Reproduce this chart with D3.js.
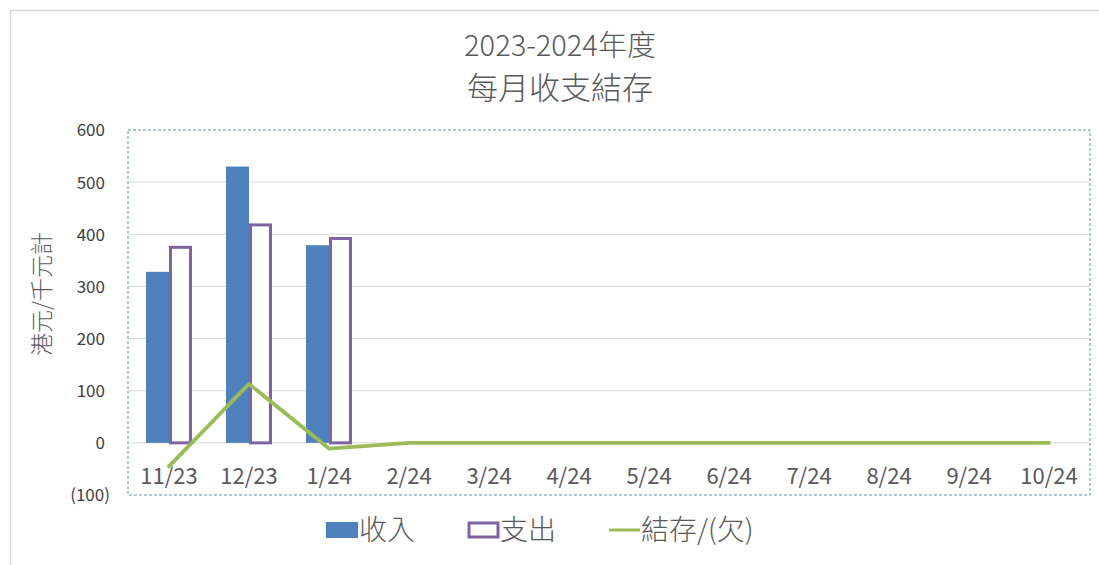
<!DOCTYPE html>
<html><head><meta charset="utf-8">
<script src="https://cdn.jsdelivr.net/npm/d3@7"></script>
<style>body{margin:0;background:#fff}svg{display:block}</style>
</head><body>
<svg id="c" width="1099" height="565"></svg>
<script>
const categories = ["11/23","12/23","1/24","2/24","3/24","4/24","5/24","6/24","7/24","8/24","9/24","10/24"];
const income  = [328, 530, 379, null, null, null, null, null, null, null, null, null];
const expense = [375, 418, 392, null, null, null, null, null, null, null, null, null];
const balance = [-45, 113, -11, 0, 0, 0, 0, 0, 0, 0, 0, 0];
const yTicks = [-100, 0, 100, 200, 300, 400, 500, 600];
const titleLines = ["2023-2024年度", "每月收支結存"];
const yTitle = "港元/千元計";
const legendLabels = ["收入", "支出", "結存/(欠)"];

const font = "'Noto Sans CJK TC','Noto Sans',sans-serif";
const svg = d3.select("#c");
const L = 129, R = 1089, T = 130, B = 495;

// outer chart border
svg.append("rect").attr("x",10.5).attr("y",10.5).attr("width",1100).attr("height",560)
  .attr("fill","none").attr("stroke","#d9d9d9").attr("stroke-width",1.5);

const x = d3.scaleBand().domain(categories).range([L, R]).paddingInner(0).paddingOuter(0);
const y = d3.scaleLinear().domain([-100, 600]).range([B, T]);

// gridlines
svg.append("g").selectAll("line").data(yTicks.filter(d => d >= 0 && d < 600)).join("line")
  .attr("x1", L).attr("x2", R).attr("y1", d => y(d)).attr("y2", d => y(d))
  .attr("stroke", "#d9d9d9").attr("stroke-width", 1);

// plot area dashed border
svg.append("rect").attr("x", L - 1).attr("y", T).attr("width", R - L + 2).attr("height", B - T)
  .attr("fill","none").attr("stroke","#6b8fae").attr("stroke-width",1).attr("stroke-dasharray","3,2");

// y axis labels
const yAxis = d3.axisLeft(y).tickValues(yTicks).tickSize(0).tickPadding(0)
  .tickFormat(d => d < 0 ? "(" + Math.abs(d) + ")" : d);
const yg = svg.append("g").attr("transform", `translate(110,0)`).call(yAxis);
yg.select(".domain").remove();
yg.selectAll("text").attr("font-family", font).attr("font-size", 17).attr("fill", "#404040").attr("dy","0.35em")
  .attr("dx", d => d < 0 ? 0 : -5);

// bars
const bw = 23;
const gBars = svg.append("g");
gBars.selectAll("rect.inc").data(categories.map((c,i)=>({c, v: income[i]})).filter(d=>d.v!=null)).join("rect")
  .attr("class","inc")
  .attr("x", d => x(d.c) + x.bandwidth()/2 - bw).attr("width", bw)
  .attr("y", d => y(d.v)).attr("height", d => y(0) - y(d.v))
  .attr("fill", "#4f81bd");
gBars.selectAll("rect.exp").data(categories.map((c,i)=>({c, v: expense[i]})).filter(d=>d.v!=null)).join("rect")
  .attr("class","exp")
  .attr("x", d => x(d.c) + x.bandwidth()/2 + 1.5).attr("width", bw - 3)
  .attr("y", d => y(d.v)).attr("height", d => y(0) - y(d.v))
  .attr("fill", "#fff").attr("stroke", "#8064a2").attr("stroke-width", 3);

// x labels
const xAxis = d3.axisBottom(x).tickSize(0).tickPadding(0);
const xg = svg.append("g").attr("transform", `translate(0,476)`).call(xAxis);
xg.select(".domain").remove();
xg.selectAll("text").attr("font-family", font).attr("font-size", 22).attr("fill", "#595959").attr("dy","0.35em");

// balance line
const line = d3.line().x((d,i) => x(categories[i]) + x.bandwidth()/2).y(d => y(d));
svg.append("path").datum(balance).attr("d", line)
  .attr("fill","none").attr("stroke","#9bbb59").attr("stroke-width",3.8).attr("stroke-linecap","round").attr("stroke-linejoin","round");

// title
svg.append("g").selectAll("text").data(titleLines).join("text")
  .attr("x", 560).attr("y", (d,i) => 56 + i*43).attr("text-anchor","middle")
  .attr("font-family", font).attr("font-size", (d,i) => i === 0 ? 29 : 31).attr("font-weight", 300).attr("fill", "#595959").text(d => d);

// y title
svg.append("text").attr("transform","translate(50,294) rotate(-90)").attr("text-anchor","middle")
  .attr("font-family", font).attr("font-size", 23).attr("font-weight", 300).attr("fill", "#595959").text(yTitle);

// legend
const lg = svg.append("g").attr("font-family", font).attr("font-size", 28).attr("font-weight", 300).attr("fill","#595959");
lg.append("rect").attr("x",326).attr("y",522).attr("width",32).attr("height",16).attr("fill","#4f81bd");
lg.append("text").attr("x",359).attr("y",540).text(legendLabels[0]);
lg.append("rect").attr("x",469).attr("y",523).attr("width",29).attr("height",14).attr("fill","#fff").attr("stroke","#8064a2").attr("stroke-width",3);
lg.append("text").attr("x",500).attr("y",540).text(legendLabels[1]);
lg.append("line").attr("x1",609).attr("x2",640).attr("y1",530).attr("y2",530).attr("stroke","#9bbb59").attr("stroke-width",3);
lg.append("text").attr("x",641).attr("y",540).text(legendLabels[2]);
</script>
</body></html>
